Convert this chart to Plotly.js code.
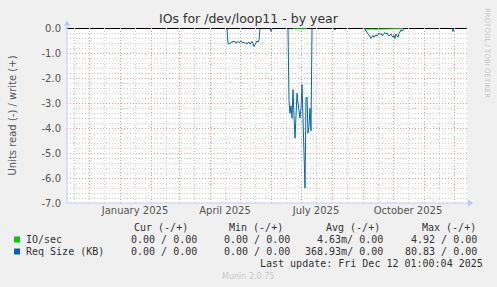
<!DOCTYPE html>
<html>
<head>
<meta charset="utf-8">
<script src="https://cdn.plot.ly/plotly-3.0.1.min.js"></script>
<style>html,body{margin:0;padding:0;background:#F0F0F0;}#chart{width:497px;height:287px;}</style>
</head>
<body>
<div id="chart"></div>
<script>
// ---------- data ----------
const xRange = ['2024-11-09', '2025-12-14'];
const monthStarts = ['2024-12-01','2025-01-01','2025-02-01','2025-03-01','2025-04-01','2025-05-01','2025-06-01','2025-07-01','2025-08-01','2025-09-01','2025-10-01','2025-11-01','2025-12-01'];
const midMonths = ['2024-11-16','2024-12-16','2025-01-16','2025-02-16','2025-03-16','2025-04-16','2025-05-16','2025-06-16','2025-07-16','2025-08-16','2025-09-16','2025-10-16','2025-11-16'];
const midMonthLabels = ['', '', 'January 2025', '', '', 'April 2025', '', '', 'July 2025', '', '', 'October 2025', ''];
const yTickVals = [0, -1, -2, -3, -4, -5, -6, -7];
const yTickText = ['0.0', '-1.0', '-2.0', '-3.0', '-4.0', '-5.0', '-6.0', '-7.0'];

// Req Size (KB), read side (drawn negative); null = no data
const reqDates = [
  '2025-04-18','2025-04-19','2025-04-20','2025-04-21','2025-04-22','2025-04-23','2025-04-24','2025-04-25','2025-04-26','2025-04-27','2025-04-28','2025-04-29','2025-04-30',
  '2025-05-01','2025-05-02','2025-05-03','2025-05-04','2025-05-05','2025-05-06','2025-05-07','2025-05-08','2025-05-09','2025-05-10','2025-05-11','2025-05-12','2025-05-13','2025-05-14','2025-05-15','2025-05-16','2025-05-17','2025-05-18','2025-05-19','2025-05-20','2025-05-21',
  '2025-05-26',
  '2025-05-31','2025-06-01','2025-06-02',
  '2025-06-10',
  '2025-06-18','2025-06-19','2025-06-20','2025-06-21','2025-06-22','2025-06-23','2025-06-24','2025-06-25','2025-06-26','2025-06-27','2025-06-28','2025-06-29','2025-06-30',
  '2025-07-01','2025-07-02','2025-07-03','2025-07-04','2025-07-05','2025-07-06','2025-07-07','2025-07-08','2025-07-09','2025-07-10','2025-07-11','2025-07-12',
  '2025-07-20',
  '2025-08-03','2025-08-04','2025-08-05',
  '2025-08-15',
  '2025-09-02','2025-09-03','2025-09-04','2025-09-05','2025-09-06','2025-09-07','2025-09-08','2025-09-09','2025-09-10','2025-09-11','2025-09-12','2025-09-13','2025-09-14','2025-09-15',
  '2025-09-16','2025-09-17','2025-09-18','2025-09-19','2025-09-20','2025-09-21','2025-09-22','2025-09-23','2025-09-24','2025-09-25','2025-09-26','2025-09-27','2025-09-28','2025-09-29','2025-09-30',
  '2025-10-01','2025-10-02','2025-10-03','2025-10-04','2025-10-05','2025-10-06','2025-10-07','2025-10-08','2025-10-09','2025-10-10','2025-10-11','2025-10-12',
  '2025-11-01',
  '2025-11-29','2025-11-30','2025-12-01'
];
const reqRead = [
  0, 0.60, 0.62, 0.61, 0.58, 0.52, 0.55, 0.50, 0.56, 0.60, 0.54, 0.52, 0.57,
  0.55, 0.50, 0.53, 0.58, 0.55, 0.60, 0.56, 0.62, 0.58, 0.55, 0.63, 0.58, 0.52, 0.60, 0.72, 0.65, 0.58, 0.50, 0.55, 0.45, 0,
  null,
  0, 0.12, 0,
  null,
  0, 2.9, 3.4, 3.1, 3.6, 2.45, 3.5, 4.4, 3.5, 2.6, 3.0, 3.3, 3.6,
  3.2, 2.25, 3.6, 5.0, 6.4, 2.8, 2.75, 4.2, 3.9, 3.2, 4.1, 0,
  null,
  0, 0.06, 0,
  null,
  0, 0.02, 0.10, 0.15, 0.22, 0.25, 0.32, 0.40, 0.30, 0.28, 0.35, 0.30, 0.25, 0.30,
  0.22, 0.18, 0.24, 0.20, 0.28, 0.26, 0.20, 0.16, 0.22, 0.18, 0.25, 0.30, 0.26, 0.22, 0.30,
  0.35, 0.28, 0.40, 0.22, 0.30, 0.35, 0.20, 0.08, 0.05, 0.10, 0.02, 0,
  null,
  0, 0.12, 0
];

// IO/sec, read side (drawn negative)
const ioDates = [
  '2025-06-23','2025-06-24','2025-06-25','2025-06-26','2025-06-27','2025-06-28','2025-06-29','2025-06-30','2025-07-01','2025-07-02','2025-07-03','2025-07-04','2025-07-05','2025-07-06','2025-07-07',
  '2025-07-20',
  '2025-09-02','2025-09-03','2025-09-04','2025-09-05','2025-09-06','2025-09-07','2025-09-08','2025-09-09','2025-09-10','2025-09-11','2025-09-12','2025-09-13','2025-09-14','2025-09-15',
  '2025-09-16','2025-09-17','2025-09-18','2025-09-19','2025-09-20','2025-09-21','2025-09-22','2025-09-23','2025-09-24','2025-09-25','2025-09-26','2025-09-27','2025-09-28','2025-09-29','2025-09-30',
  '2025-10-01','2025-10-02','2025-10-03','2025-10-04','2025-10-05','2025-10-06','2025-10-07','2025-10-08','2025-10-09','2025-10-10','2025-10-11'
];
const ioRead = [
  0, 0.01, 0.015, 0.01, 0.005, 0.01, 0.015, 0.01, 0.01, 0.015, 0.01, 0.01, 0.015, 0.01, 0,
  null,
  0, 0.02, 0.025, 0.025, 0.02, 0.025, 0.025, 0.02, 0.025, 0.025, 0.02, 0.025, 0.025, 0.02,
  0.025, 0.025, 0.02, 0.025, 0.025, 0.02, 0.025, 0.025, 0.02, 0.025, 0.025, 0.02, 0.025, 0.025, 0.02,
  0.025, 0.025, 0.02, 0.025, 0.025, 0.02, 0.025, 0.02, 0.02, 0.02, 0
];

const seriesNames = ['IO/sec', 'Req Size (KB)'];
const seriesColors = ['#00CC00', '#0066B3'];
const statHeaders = ['Cur (-/+)', 'Min (-/+)', 'Avg (-/+)', 'Max (-/+)'];
const ioStats = ['0.00 / 0.00', '0.00 / 0.00', '4.63m/ 0.00', '4.92 / 0.00'];
const reqStats = ['0.00 / 0.00', '0.00 / 0.00', '368.93m/ 0.00', '80.83 / 0.00'];
const lastUpdate = 'Last update: Fri Dec 12 01:00:04 2025';

// ---------- layout helpers ----------
const L = 67, R = 467, T = 28, B = 203;
const px = v => (v - L) / (R - L);
const py = v => (B - v) / (B - T);
const mono = {family: 'DejaVu Sans Mono', size: 10, color: '#333333'};
const neg = a => a.map(v => v === null ? null : -v);

const traces = [
  {x: ioDates, y: neg(ioRead), type: 'scatter', mode: 'lines', name: seriesNames[0],
   line: {color: seriesColors[0], width: 1}, connectgaps: false, showlegend: false, hoverinfo: 'skip'},
  {x: reqDates, y: neg(reqRead), type: 'scatter', mode: 'lines', name: seriesNames[1],
   line: {color: seriesColors[1], width: 1}, connectgaps: false, showlegend: false, hoverinfo: 'skip'}
];

const annotations = [];
const headerRight = [188, 283, 380, 476];
const valueRight = [197, 290, 383, 477];
const ann = (o) => Object.assign({xref: 'paper', yref: 'paper', showarrow: false, borderpad: 0, borderwidth: 0, yanchor: 'middle'}, o);
statHeaders.forEach((t, i) => annotations.push(ann({text: t, x: px(headerRight[i]), y: py(227.5), xanchor: 'right', font: mono})));
[ioStats, reqStats].forEach((row, r) => {
  const yy = py(239.5 + 12 * r);
  annotations.push(ann({text: seriesNames[r], x: px(26), y: yy, xanchor: 'left', font: mono}));
  row.forEach((t, i) => annotations.push(ann({text: t, x: px(valueRight[i]), y: yy, xanchor: 'right', font: mono})));
});
annotations.push(ann({text: lastUpdate, x: px(483), y: py(263.5), xanchor: 'right', font: mono}));
annotations.push(ann({text: 'Munin 2.0.75', x: px(248), y: py(276), xanchor: 'center', font: {family: 'DejaVu Sans', size: 8, color: '#C8C8C8'}}));
annotations.push(ann({text: 'RRDTOOL / TOBI OETIKER', x: px(487), y: py(53), xanchor: 'center', textangle: 90, font: {family: 'DejaVu Sans', size: 7, color: '#C8C8C8'}}));

const axisCol = '#C8CCF0';
const shapes = [
  {type: 'line', xref: 'paper', yref: 'y', x0: 0, x1: 1, y0: 0, y1: 0, line: {color: '#000000', width: 1}, layer: 'below'},
  {type: 'line', xref: 'paper', yref: 'paper', x0: 0, x1: 0, y0: 0, y1: py(24), line: {color: axisCol, width: 1}, layer: 'above'},
  {type: 'line', xref: 'paper', yref: 'paper', x0: 0, x1: px(469), y0: 0, y1: 0, line: {color: axisCol, width: 1}, layer: 'above'},
  {type: 'path', xref: 'paper', yref: 'paper', path: `M ${px(64)} ${py(25.5)} L ${px(67)} ${py(20.5)} L ${px(70)} ${py(25.5)} Z`, fillcolor: '#C0C4F0', line: {width: 0}, layer: 'above'},
  {type: 'path', xref: 'paper', yref: 'paper', path: `M ${px(468)} ${py(199.5)} L ${px(473)} ${py(203)} L ${px(468)} ${py(206.5)} Z`, fillcolor: '#C0C4F0', line: {width: 0}, layer: 'above'},
  {type: 'rect', xref: 'paper', yref: 'paper', x0: px(14), x1: px(20), y0: py(242.5), y1: py(236.5), fillcolor: seriesColors[0], line: {width: 0}},
  {type: 'rect', xref: 'paper', yref: 'paper', x0: px(14), x1: px(20), y0: py(254.5), y1: py(248.5), fillcolor: seriesColors[1], line: {width: 0}}
];

const majorGrid = '#EEA0A0';
const minorGrid = '#D4D4D4';
const layout = {
  width: 497, height: 287,
  margin: {l: L, r: 497 - R, t: T, b: 287 - B},
  paper_bgcolor: '#F0F0F0', plot_bgcolor: '#FFFFFF',
  font: {family: 'DejaVu Sans', size: 10, color: '#555555'},
  title: {text: 'IOs for /dev/loop11 - by year', font: {family: 'DejaVu Sans', size: 12.5, color: '#333333'},
          x: 0.5, xref: 'container', xanchor: 'center', y: 1 - 19 / 287, yref: 'container', yanchor: 'middle'},
  xaxis: {type: 'date', range: xRange, tickmode: 'array', tickvals: midMonths, ticktext: midMonthLabels,
          ticks: '', showline: false, zeroline: false,
          showgrid: true, gridcolor: minorGrid, griddash: '1px,2px', gridwidth: 1,
          tickfont: {family: 'DejaVu Sans', size: 10, color: '#555555'},
          minor: {tickmode: 'array', tickvals: monthStarts, showgrid: true, gridcolor: majorGrid, griddash: '1px,2px', gridwidth: 1, ticks: ''},
          fixedrange: true},
  yaxis: {range: [-7, 0.02], tickmode: 'array', tickvals: yTickVals, ticktext: yTickText, ticks: '',
          ticklabelstandoff: 5, showline: false, zeroline: false,
          showgrid: true, gridcolor: majorGrid, griddash: '1px,2px', gridwidth: 1,
          tickfont: {family: 'DejaVu Sans', size: 10, color: '#555555'},
          minor: {dtick: 0.2, tick0: 0, showgrid: true, gridcolor: minorGrid, griddash: '1px,2px', gridwidth: 1, ticks: ''},
          title: {text: 'Units read (-) / write (+)', font: {family: 'DejaVu Sans', size: 10, color: '#555555'}, standoff: 22},
          fixedrange: true},
  showlegend: false,
  annotations: annotations,
  shapes: shapes
};

Plotly.newPlot('chart', traces, layout, {staticPlot: true, displayModeBar: false});
</script>
</body>
</html>
